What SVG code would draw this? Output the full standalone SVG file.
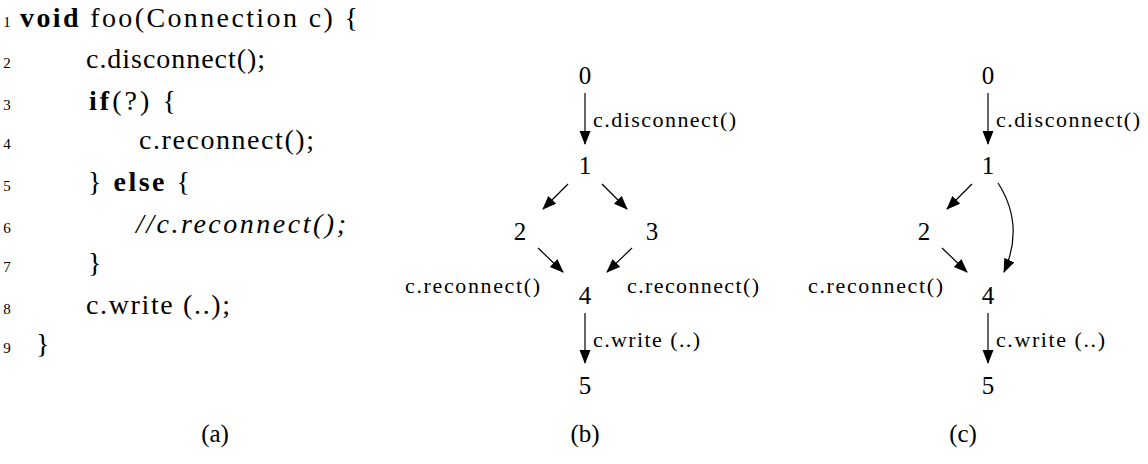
<svg xmlns="http://www.w3.org/2000/svg" width="1148" height="464" viewBox="0 0 1148 464">
<defs>
<style>
.code{font-family:"Liberation Serif",serif;font-size:28px;fill:#000}
.ln{font-family:"Liberation Serif",serif;font-size:15px;fill:#000;text-anchor:middle}
.b{font-weight:bold}
.node{font-family:"Liberation Serif",serif;font-size:25px;fill:#000;text-anchor:middle}
.lbl{font-family:"Liberation Serif",serif;font-size:22px;fill:#000}
.cap{font-family:"Liberation Serif",serif;font-size:25px;fill:#000;text-anchor:middle}
.edge{stroke:#000;stroke-width:1.2;fill:none;marker-end:url(#ah)}
</style>
<marker id="ah" markerUnits="userSpaceOnUse" markerWidth="14" markerHeight="12" refX="13" refY="5.5" orient="auto">
<path d="M0,0 L14,5.5 L0,11 z" fill="#000"/>
</marker>
</defs>
<g id="code">
<text class="ln" x="7" y="27">1</text>
<text class="code" x="20" y="27" textLength="338" lengthAdjust="spacing"><tspan class="b">void</tspan> foo(Connection c) {</text>
<text class="ln" x="7" y="68">2</text>
<text class="code" x="86" y="68" textLength="179" lengthAdjust="spacing">c.disconnect();</text>
<text class="ln" x="7" y="110">3</text>
<text class="code" x="89" y="110" textLength="87" lengthAdjust="spacing"><tspan class="b">if</tspan>(?) {</text>
<text class="ln" x="7" y="149">4</text>
<text class="code" x="139" y="149" textLength="175" lengthAdjust="spacing">c.reconnect();</text>
<text class="ln" x="7" y="191">5</text>
<text class="code" x="88" y="191" textLength="102" lengthAdjust="spacing">} <tspan class="b">else</tspan> {</text>
<text class="ln" x="7" y="233">6</text>
<text class="code" x="136" y="233" textLength="210" lengthAdjust="spacing" font-style="italic">//c.reconnect();</text>
<text class="ln" x="7" y="272">7</text>
<text class="code" x="88" y="272">}</text>
<text class="ln" x="7" y="314">8</text>
<text class="code" x="86" y="314" textLength="144" lengthAdjust="spacing">c.write (..);</text>
<text class="ln" x="7" y="353">9</text>
<text class="code" x="36" y="353">}</text>
<text class="cap" x="215" y="442">(a)</text>
</g>
<g id="graph-b">
<g id="b-n0"><text class="node" x="585" y="84">0</text></g>
<g id="b-n1"><text class="node" x="585" y="174">1</text></g>
<g id="b-n2"><text class="node" x="520" y="240">2</text></g>
<g id="b-n3"><text class="node" x="652" y="240">3</text></g>
<g id="b-n4"><text class="node" x="585" y="304">4</text></g>
<g id="b-n5"><text class="node" x="585" y="394">5</text></g>
<g id="b-edges">
<line class="edge" x1="585" y1="93" x2="585" y2="144"/>
<line class="edge" x1="568" y1="184" x2="543" y2="209"/>
<line class="edge" x1="602" y1="184" x2="627" y2="209"/>
<line class="edge" x1="538" y1="248" x2="563" y2="272"/>
<line class="edge" x1="632" y1="248" x2="607" y2="272"/>
<line class="edge" x1="585" y1="313" x2="585" y2="363"/>
</g>
<text class="lbl" x="593" y="127" textLength="143" lengthAdjust="spacing">c.disconnect()</text>
<text class="lbl" x="405" y="293" textLength="135" lengthAdjust="spacing">c.reconnect()</text>
<text class="lbl" x="627" y="293" textLength="132" lengthAdjust="spacing">c.reconnect()</text>
<text class="lbl" x="593" y="347" textLength="107" lengthAdjust="spacing">c.write (..)</text>
<text class="cap" x="585" y="442">(b)</text>
</g>
<g id="graph-c">
<g id="c-n0"><text class="node" x="988" y="84">0</text></g>
<g id="c-n1"><text class="node" x="988" y="174">1</text></g>
<g id="c-n2"><text class="node" x="924" y="240">2</text></g>
<g id="c-n4"><text class="node" x="988" y="304">4</text></g>
<g id="c-n5"><text class="node" x="988" y="394">5</text></g>
<g id="c-edges">
<line class="edge" x1="988" y1="93" x2="988" y2="144"/>
<line class="edge" x1="972" y1="184" x2="947" y2="209"/>
<line class="edge" x1="942" y1="248" x2="967" y2="272"/>
<path class="edge" d="M998,183 Q1025,225 1004,272"/>
<line class="edge" x1="988" y1="313" x2="988" y2="363"/>
</g>
<text class="lbl" x="996" y="127" textLength="144" lengthAdjust="spacing">c.disconnect()</text>
<text class="lbl" x="808" y="293" textLength="135" lengthAdjust="spacing">c.reconnect()</text>
<text class="lbl" x="996" y="347" textLength="109" lengthAdjust="spacing">c.write (..)</text>
<text class="cap" x="963" y="442">(c)</text>
</g>
</svg>
